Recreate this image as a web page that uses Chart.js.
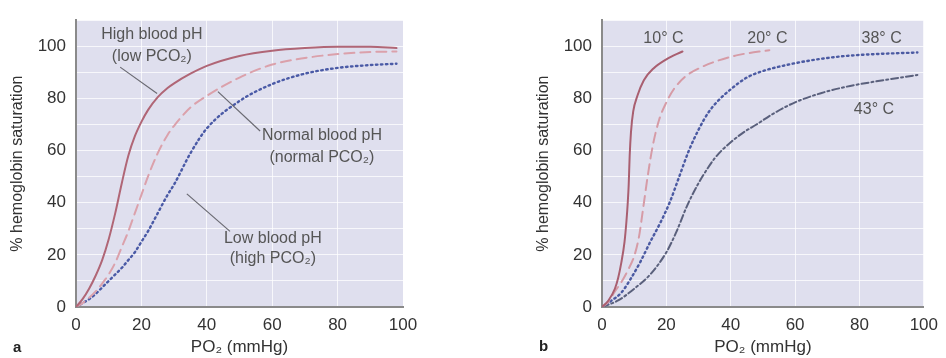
<!DOCTYPE html>
<html>
<head>
<meta charset="utf-8">
<script src="https://cdn.jsdelivr.net/npm/chart.js@4.4.1/dist/chart.umd.min.js"></script>
<style>
  html, body { margin: 0; padding: 0; background: #fff; }
  body { width: 946px; height: 358px; position: relative; overflow: hidden; font-family: "Liberation Sans", Arial, sans-serif; }
  .panel { position: absolute; top: 0; width: 473px; height: 358px; }
  .tag { position: absolute; font-weight: bold; font-size: 15px; color: #222; }
</style>
</head>
<body>
<div class="panel" style="left:0"><canvas id="chartA" width="473" height="358"></canvas></div>
<div class="panel" style="left:473px"><canvas id="chartB" width="473" height="358"></canvas></div>
<div class="tag" style="left:13px; top:338px;">a</div>
<div class="tag" style="left:539px; top:337px;">b</div>
<script>
// panel a: effect of blood pH
const poA = [0, 2, 4, 6, 8, 10, 12, 14, 16, 18, 20, 22, 25, 28, 30, 35, 40, 50, 60, 70, 80, 90, 98];
const highPH   = [0, 3, 7, 12, 18, 26, 36, 47.5, 58, 65.5, 71, 75.5, 80.5, 84, 85.8, 89.5, 92.5, 96.3, 98.3, 99.3, 99.8, 99.8, 99.3];
const normalPH = [0, 1.5, 3.5, 6, 9, 12.5, 17, 23, 29, 36, 43, 50, 59, 66, 69.5, 76.5, 81, 88, 93, 95.5, 97, 97.8, 98];
const lowPH    = [0, 1.5, 3, 5, 7.5, 10, 12.5, 15, 18, 21, 25, 29, 36, 43, 47, 59, 68.5, 79, 85.5, 89.5, 91.7, 92.8, 93.3];

// panel b: effect of temperature
const po10 = [0, 2, 4, 5, 6, 7, 7.6, 8, 8.3, 8.6, 9, 9.7, 11, 13, 16, 20, 25];
const sat10 = [0, 2.5, 7, 11, 17, 25, 33, 40, 47, 58, 67, 75, 81, 87, 91.5, 95, 98];
const po20 = [0, 2, 4, 6, 8, 10, 11.5, 12.8, 14.3, 15.8, 17.8, 20, 22.3, 26, 30.4, 36, 42.5, 52];
const sat20 = [0, 2, 6, 9.5, 14, 19.5, 27, 38, 51, 62, 72, 78.5, 83.5, 88.5, 91.7, 94.5, 96.7, 98.5];
const po38 = [0, 3, 6, 9, 12, 15, 18, 21, 24, 27, 30, 33, 36, 40, 45, 50, 58, 66, 75, 85, 98];
const sat38 = [0, 2.5, 5.5, 11, 17.5, 25, 32, 40, 50, 60, 68, 74.5, 79, 83.5, 88, 90.5, 93, 94.8, 96.2, 97, 97.6];
const po43 = [0, 5, 10, 15, 20, 23, 26.5, 30, 33, 35, 37, 40, 44, 48, 53, 60, 68, 76, 85, 98];
const sat43 = [0, 2.5, 7, 12.5, 21, 28.5, 39, 47.5, 53.5, 57, 59.8, 63.2, 67, 70, 74, 78.5, 82, 84.5, 86.5, 89];

const xTicks = [0, 20, 40, 60, 80, 100];
const yTicks = [0, 20, 40, 60, 80, 100];

const FONT = '"Liberation Sans", Arial, sans-serif';
const pts = (xs, ys) => xs.map((x, i) => ({ x: x, y: ys[i] }));

// lavender plot area + text notes with leader lines
const notesPlugin = {
  id: 'notes',
  beforeDraw(chart) {
    const { ctx, chartArea: a } = chart;
    ctx.save();
    ctx.fillStyle = '#dfdfee';
    ctx.fillRect(a.left, a.top, a.right - a.left, a.bottom - a.top);
    ctx.restore();
  },
  afterDatasetsDraw(chart, args, opts) {
    const { ctx, scales: { x, y } } = chart;
    ctx.save();
    ctx.strokeStyle = '#6a6a72';
    ctx.lineWidth = 1.2;
    (opts.leaders || []).forEach(l => {
      ctx.beginPath();
      ctx.moveTo(x.getPixelForValue(l[0]), y.getPixelForValue(l[1]));
      ctx.lineTo(x.getPixelForValue(l[2]), y.getPixelForValue(l[3]));
      ctx.stroke();
    });
    ctx.fillStyle = '#555';
    ctx.font = '16px ' + FONT;
    ctx.textAlign = 'center';
    ctx.textBaseline = 'middle';
    (opts.labels || []).forEach(t => {
      ctx.fillText(t[2], x.getPixelForValue(t[0]), y.getPixelForValue(t[1]));
    });
    ctx.restore();
  }
};

function line(label, data, color, dash, width) {
  return {
    label: label, data: data, borderColor: color, borderDash: dash,
    borderWidth: width || 2, pointRadius: 0, fill: false,
    cubicInterpolationMode: 'monotone', borderCapStyle: 'round'
  };
}

function makeOptions(padLeft, padRight, notes) {
  return {
    responsive: false,
    animation: false,
    layout: { padding: { left: padLeft, right: padRight, top: 14, bottom: 0 } },
    plugins: { legend: { display: false }, tooltip: { enabled: false }, notes: notes },
    scales: {
      x: {
        type: 'linear', min: 0, max: 100,
        afterFit: s => { s.height = 51; },
        afterBuildTicks: s => { s.ticks = xTicks.map(v => ({ value: v })); },
        ticks: { color: '#333', padding: 8, font: { family: FONT, size: 17 } },
        grid: { color: 'rgba(255,255,255,0.75)', lineWidth: 1, drawTicks: false },
        border: { color: '#8a8a8a', width: 2 },
        title: { display: true, text: 'PO₂ (mmHg)', color: '#333', padding: { top: 0, bottom: 0 }, font: { family: FONT, size: 17 } }
      },
      y: {
        type: 'linear', min: 0, max: 110,
        afterFit: s => { s.width = 76; },
        ticks: {
          stepSize: 10, color: '#333', padding: 10, font: { family: FONT, size: 17 },
          callback: v => (yTicks.includes(v) ? v : '')
        },
        grid: { color: 'rgba(255,255,255,0.75)', lineWidth: 1, drawTicks: false },
        border: { color: '#8a8a8a', width: 2 },
        title: { display: true, text: '% hemoglobin saturation', color: '#333', padding: { top: 8, bottom: 0 }, font: { family: FONT, size: 16 } }
      }
    }
  };
}

new Chart(document.getElementById('chartA'), {
  type: 'line',
  data: {
    datasets: [
      line('High blood pH', pts(poA, highPH), '#b06676', []),
      line('Normal blood pH', pts(poA, normalPH), '#dba1ab', [10, 6]),
      line('Low blood pH', pts(poA, lowPH), '#4a5aa6', [1.5, 3.5], 2.4)
    ]
  },
  options: makeOptions(0, 70, {
    leaders: [[13.5, 92, 24.8, 81.9], [43.4, 82.6, 56.3, 67.5], [33.9, 43.4, 47.1, 29]],
    labels: [
      [23.2, 104.5, 'High blood pH'], [23.2, 96.2, '(low PCO₂)'],
      [75.2, 65.7, 'Normal blood pH'], [75.2, 57.4, '(normal PCO₂)'],
      [60.2, 26.4, 'Low blood pH'], [60.2, 18.5, '(high PCO₂)']
    ]
  }),
  plugins: [notesPlugin]
});

new Chart(document.getElementById('chartB'), {
  type: 'line',
  data: {
    datasets: [
      line('10° C', pts(po10, sat10), '#a95f70', []),
      line('20° C', pts(po20, sat20), '#d69ba6', [10, 6]),
      line('38° C', pts(po38, sat38), '#4b5aa2', [1.5, 3.5], 2.4),
      line('43° C', pts(po43, sat43), '#5a607c', [7, 3, 2, 3])
    ]
  },
  options: makeOptions(53, 15, {
    leaders: [],
    labels: [
      [19.1, 103, '10° C'], [51.4, 103, '20° C'], [86.9, 103, '38° C'], [84.5, 75.8, '43° C']
    ]
  }),
  plugins: [notesPlugin]
});
</script>
</body>
</html>
